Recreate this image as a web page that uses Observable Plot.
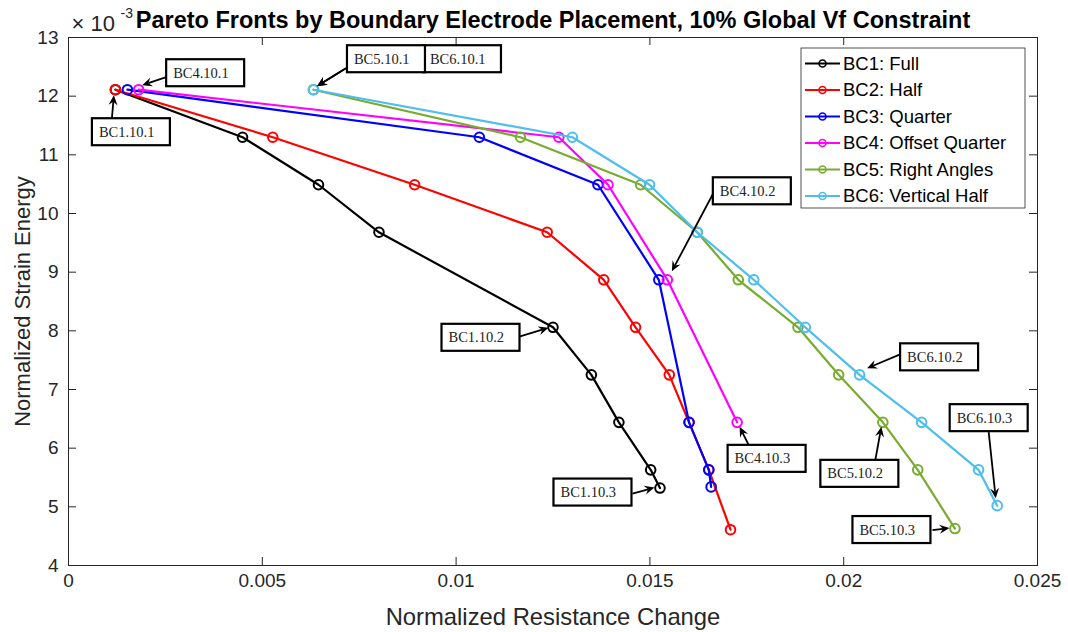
<!DOCTYPE html>
<html>
<head>
<meta charset="utf-8">
<script src="https://cdn.jsdelivr.net/npm/d3@7"></script>
<script src="https://cdn.jsdelivr.net/npm/@observablehq/plot@0.6"></script>
<style>
  html, body { margin: 0; padding: 0; background: #fff; }
</style>
</head>
<body>
<div id="chart"></div>
<script>
// Boundary-condition cases and their colours
const seriesNames = ["BC1: Full", "BC2: Half", "BC3: Quarter", "BC4: Offset Quarter", "BC5: Right Angles", "BC6: Vertical Half"];
const seriesColors = ["#000000", "#ff0000", "#0000ff", "#ff00ff", "#77ac30", "#4dbeee"];

// Normalized resistance change (x) and normalized strain energy (y, in units of 1e-3)
const bc1Resistance = [0.00121, 0.00449, 0.00645, 0.00801, 0.01250, 0.01349, 0.01420, 0.01502, 0.01526];
const bc1Strain     = [12.11, 11.30, 10.49, 9.68, 8.06, 7.25, 6.44, 5.63, 5.32];

const bc2Resistance = [0.00121, 0.00527, 0.00893, 0.01235, 0.01381, 0.01463, 0.01550, 0.01601, 0.01652, 0.01708];
const bc2Strain     = [12.11, 11.30, 10.49, 9.68, 8.87, 8.06, 7.25, 6.44, 5.63, 4.61];

const bc3Resistance = [0.00152, 0.01060, 0.01366, 0.01523, 0.01601, 0.01652, 0.01658];
const bc3Strain     = [12.11, 11.30, 10.49, 8.87, 6.44, 5.63, 5.34];

const bc4Resistance = [0.00181, 0.01265, 0.01392, 0.01545, 0.01725];
const bc4Strain     = [12.11, 11.30, 10.49, 8.87, 6.44];

const bc5Resistance = [0.00632, 0.01166, 0.01476, 0.01622, 0.01728, 0.01882, 0.01987, 0.02101, 0.02191, 0.02287];
const bc5Strain     = [12.11, 11.30, 10.49, 9.68, 8.87, 8.06, 7.25, 6.44, 5.63, 4.63];

const bc6Resistance = [0.00632, 0.01300, 0.01499, 0.01622, 0.01768, 0.01901, 0.02041, 0.02201, 0.02348, 0.02396];
const bc6Strain     = [12.11, 11.30, 10.49, 9.68, 8.87, 8.06, 7.25, 6.44, 5.63, 5.02];

// Axis ticks
const xTicks = [0, 0.005, 0.01, 0.015, 0.02, 0.025];
const yTicks = [4, 5, 6, 7, 8, 9, 10, 11, 12, 13];

// Text
const titleText = "Pareto Fronts by Boundary Electrode Placement, 10% Global Vf Constraint";
const xLabel = "Normalized Resistance Change";
const yLabel = "Normalized Strain Energy";

// Callouts: label, series index, point index, and pixel offsets (box corner, arrow tail, arrow head) from that point
const callouts = [
  {text: "BC1.10.1", series: 0, point: 0, box: [-23, 29],  tail: [-3, 29],  head: [-1, 6]},
  {text: "BC4.10.1", series: 3, point: 0, box: [28, -30],  tail: [28, -12], head: [4, -4]},
  {text: "BC6.10.1", series: 5, point: 0, box: [110, -44], tail: [33, -21], head: [4, -3]},
  {text: "BC5.10.1", series: 4, point: 0, box: [34, -44],  tail: [33, -21], head: [4, -3]},
  {text: "BC4.10.2", series: 3, point: 3, box: [46, -102], tail: [47, -87], head: [5, -8]},
  {text: "BC1.10.2", series: 0, point: 4, box: [-111, -3], tail: [-34, 10], head: [-4, 1]},
  {text: "BC1.10.3", series: 0, point: 8, box: [-106, -9], tail: [-27, 6],  head: [-5, 0]},
  {text: "BC4.10.3", series: 3, point: 4, box: [-9, 23],   tail: [12, 23],  head: [3, 5]},
  {text: "BC6.10.2", series: 5, point: 6, box: [41, -31],  tail: [41, -20], head: [8, -6]},
  {text: "BC6.10.3", series: 5, point: 9, box: [-47, -101], tail: [-8, -73], head: [-1, -7]},
  {text: "BC5.10.2", series: 4, point: 7, box: [-62, 38],  tail: [-7, 38],  head: [-1, 5]},
  {text: "BC5.10.3", series: 4, point: 9, box: [-102, -12], tail: [-22, 2], head: [-5, 0]}
];

const seriesX = [bc1Resistance, bc2Resistance, bc3Resistance, bc4Resistance, bc5Resistance, bc6Resistance];
const seriesY = [bc1Strain, bc2Strain, bc3Strain, bc4Strain, bc5Strain, bc6Strain];
const seriesRows = seriesX.map((xs, i) => xs.map((x, j) => ({series: seriesNames[i], x, y: seriesY[i][j]})));

// Layout
const W = 1068, H = 632;
const M = {top: 37, right: 31, bottom: 67, left: 68};
const plotW = W - M.left - M.right, plotH = H - M.top - M.bottom;
const tickLen = 8;
const axisColor = "#262626";
const sans = "'Liberation Sans', Arial, Helvetica, sans-serif";
const serif = "'Liberation Serif', 'Times New Roman', Times, serif";

const seriesMarks = seriesRows.flatMap((rows, i) => [
  Plot.line(rows, {x: "x", y: "y", stroke: seriesColors[i], strokeWidth: 2.2}),
  Plot.dot(rows, {x: "x", y: "y", r: 4.8, stroke: seriesColors[i], strokeWidth: 2, fill: "none"})
]);

const chart = Plot.plot({
  width: W,
  height: H,
  marginTop: M.top,
  marginRight: M.right,
  marginBottom: M.bottom,
  marginLeft: M.left,
  style: {fontFamily: sans, background: "white", overflow: "visible"},
  x: {domain: [0, 0.025]},
  y: {domain: [4, 13]},
  marks: [
    // inward tick marks on all four sides
    Plot.ruleX(xTicks, {x: d => d, insetTop: plotH - tickLen, stroke: axisColor}),
    Plot.ruleX(xTicks, {x: d => d, insetBottom: plotH - tickLen, stroke: axisColor}),
    Plot.ruleY(yTicks, {y: d => d, insetRight: plotW - tickLen, stroke: axisColor}),
    Plot.ruleY(yTicks, {y: d => d, insetLeft: plotW - tickLen, stroke: axisColor}),
    Plot.frame({stroke: axisColor, strokeWidth: 1}),
    Plot.axisX(xTicks, {tickSize: 0, tickPadding: 8, fontSize: 19, fill: axisColor, tickFormat: d3.format("~g"), label: null}),
    Plot.axisY(yTicks, {tickSize: 0, tickPadding: 10, fontSize: 19, fill: axisColor, tickFormat: d3.format("~g"), label: null}),
    ...seriesMarks,
    Plot.text([xLabel], {frameAnchor: "bottom", lineAnchor: "middle", dy: 52, fontSize: 23.8, fill: axisColor}),
    Plot.text([yLabel], {frameAnchor: "left", textAnchor: "middle", lineAnchor: "middle", dx: -46, rotate: -90, fontSize: 22, fill: axisColor}),
    Plot.text([titleText], {frameAnchor: "top", lineAnchor: "middle", dy: -17, fontSize: 23.5, fontWeight: "bold", fill: "#000"}),
    Plot.text(["\u00d7 10"], {frameAnchor: "top-left", textAnchor: "start", lineAnchor: "middle", dx: 3, dy: -14, fontSize: 22, fill: axisColor}),
    Plot.text(["-3"], {frameAnchor: "top-left", textAnchor: "start", lineAnchor: "middle", dx: 52, dy: -24, fontSize: 14, fill: axisColor})
  ]
});

document.getElementById("chart").appendChild(chart);

// Overlays positioned with the chart's own scales
const sx = chart.scale("x"), sy = chart.scale("y");
const svg = d3.select(chart);

// Legend (top-right inside the axes)
const legend = svg.append("g").attr("transform", `translate(${W - M.right - 236},${M.top + 11})`);
legend.append("rect").attr("width", 224).attr("height", 160)
  .attr("fill", "white").attr("stroke", axisColor).attr("stroke-width", 0.8);
seriesNames.forEach((name, i) => {
  const cy = 15.5 + i * 26.5;
  legend.append("line").attr("x1", 4).attr("x2", 39).attr("y1", cy).attr("y2", cy)
    .attr("stroke", seriesColors[i]).attr("stroke-width", 2.2);
  legend.append("circle").attr("cx", 21.5).attr("cy", cy).attr("r", 3.5)
    .attr("fill", "none").attr("stroke", seriesColors[i]).attr("stroke-width", 1.6);
  legend.append("text").attr("x", 42).attr("y", cy).attr("dy", "0.35em")
    .attr("text-anchor", "start")
    .attr("font-family", sans).attr("font-size", 18.5).attr("fill", "#000").text(name);
});

// Callout boxes with arrows
function arrowHead(x1, y1, x2, y2) {
  const d = Math.hypot(x2 - x1, y2 - y1) || 1;
  const ux = (x2 - x1) / d, uy = (y2 - y1) / d;
  const nx = -uy, ny = ux;
  const L = 10, Wd = 4.5;
  const bx = x2 - L * ux, by = y2 - L * uy;
  const kx = x2 - 0.65 * L * ux, ky = y2 - 0.65 * L * uy;
  return {
    path: `M${x2},${y2}L${bx + Wd * nx},${by + Wd * ny}L${kx},${ky}L${bx - Wd * nx},${by - Wd * ny}Z`,
    notch: [kx, ky]
  };
}

const calloutLayer = svg.append("g");
callouts.forEach(c => {
  const px = sx.apply(seriesX[c.series][c.point]);
  const py = sy.apply(seriesY[c.series][c.point]);
  const tx = px + c.tail[0], ty = py + c.tail[1];
  const hx = px + c.head[0], hy = py + c.head[1];
  const head = arrowHead(tx, ty, hx, hy);
  const g = calloutLayer.append("g");
  g.append("line").attr("x1", tx).attr("y1", ty).attr("x2", head.notch[0]).attr("y2", head.notch[1])
    .attr("stroke", "#000").attr("stroke-width", 1.8);
  g.append("path").attr("d", head.path).attr("fill", "#000");
  const bx = px + c.box[0], by = py + c.box[1];
  g.append("rect").attr("x", bx).attr("y", by).attr("width", 78).attr("height", 27)
    .attr("fill", "white").attr("stroke", "#000").attr("stroke-width", 2.2);
  g.append("text").attr("x", bx + 7).attr("y", by + 13.5).attr("dy", "0.35em")
    .attr("text-anchor", "start")
    .attr("font-family", serif).attr("font-size", 14.5).attr("fill", "#222").text(c.text);
});
</script>
</body>
</html>
